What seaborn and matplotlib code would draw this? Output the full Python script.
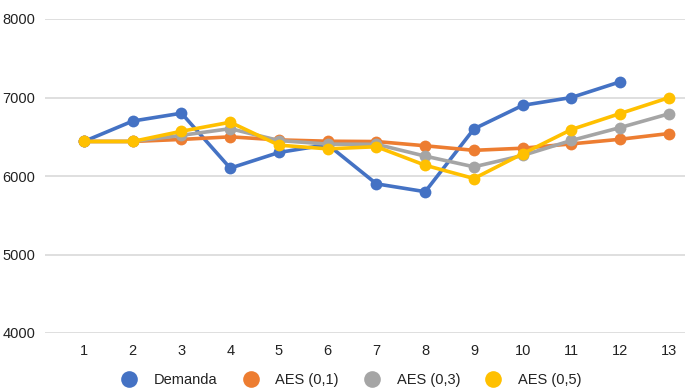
import matplotlib
matplotlib.use("Agg")
import matplotlib.pyplot as plt
from matplotlib.lines import Line2D
import seaborn as sns
import pandas as pd

# Monthly demand and simple exponential smoothing forecasts
periodos = list(range(1, 14))
demanda = [6440, 6700, 6800, 6100, 6300, 6400, 5900, 5800, 6600, 6900, 7000, 7200]
aes_01 = [6440, 6440, 6466, 6499, 6460, 6443, 6439, 6385, 6327, 6354, 6409, 6468, 6541]
aes_03 = [6440, 6440, 6518, 6603, 6452, 6406, 6404, 6253, 6117, 6262, 6453, 6617, 6792]
aes_05 = [6440, 6440, 6570, 6685, 6393, 6346, 6373, 6137, 5968, 6284, 6592, 6796, 6998]

series = ["Demanda", "AES (0,1)", "AES (0,3)", "AES (0,5)"]
colores = ["#4472C4", "#ED7D31", "#A5A5A5", "#FFC000"]
y_ticks = [4000, 5000, 6000, 7000, 8000]

rows = []
for nombre, valores in zip(series, [demanda, aes_01, aes_03, aes_05]):
    for p, v in zip(periodos, valores):
        rows.append({"periodo": p, "valor": v, "serie": nombre})
df = pd.DataFrame(rows)

sns.set_style("white")
plt.rcParams["font.family"] = ["Liberation Sans Narrow", "Liberation Sans", "DejaVu Sans"]

fig = plt.figure(figsize=(6.85, 3.91), dpi=100)
ax = fig.add_axes([45 / 685, 1 - 333 / 391, 1 - 45 / 685, (333 - 19) / 391])

sns.lineplot(data=df, x="periodo", y="valor", hue="serie", hue_order=series,
             palette=colores, marker="o", markersize=8.5, markeredgewidth=0,
             linewidth=2.6, ax=ax, legend=False, zorder=3)
for ln in ax.lines:
    ln.set_clip_on(False)

ax.set_xlim(0.2, 13.33)
ax.set_ylim(4000, 8000)
ax.set_xticks(periodos)
ax.set_xticklabels([str(p) for p in periodos])
ax.set_yticks(y_ticks)
ax.set_yticklabels([str(t) for t in y_ticks])
ax.grid(axis="y", color="#d9d9d9", linewidth=1.2, zorder=0)
ax.grid(axis="x", visible=False)
for s in ax.spines.values():
    s.set_visible(False)
ax.tick_params(axis="both", length=0, labelsize=10.5, labelcolor="#222222")
ax.tick_params(axis="x", pad=8)
ax.tick_params(axis="y", pad=7)
ax.set_xlabel("")
ax.set_ylabel("")

handles = [Line2D([], [], linestyle="none", marker="o", markersize=12,
                  markerfacecolor=c, markeredgewidth=0) for c in colores]
fig.legend(handles, series, loc="center", bbox_to_anchor=(348 / 685, 1 - 380 / 391),
           ncol=4, frameon=False, fontsize=10.5, handletextpad=0.7,
           columnspacing=1.25, labelcolor="#222222")

fig.savefig("out.png", dpi=100)
